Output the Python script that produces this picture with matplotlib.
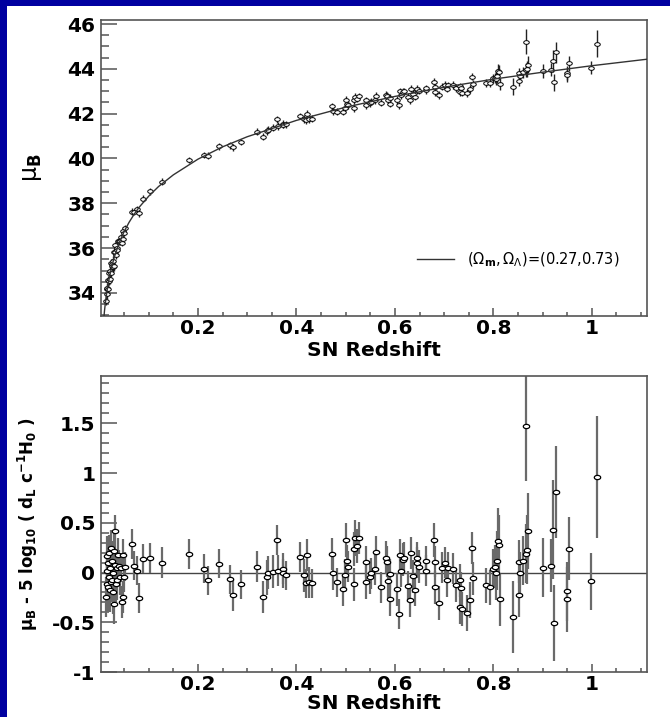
import numpy as np
import matplotlib
matplotlib.use('Agg')
import matplotlib.pyplot as plt
from matplotlib.path import Path
from matplotlib.patches import Rectangle
from matplotlib.ticker import MultipleLocator, FixedLocator, FixedFormatter

plt.rcParams['font.family'] = ['DejaVu Sans']
plt.rcParams['mathtext.fontset'] = 'dejavusans'

# redshift, distance modulus, residual, error
z = [0.0140, 0.0145, 0.0150, 0.0160, 0.0170, 0.0180, 0.0190, 0.0200, 0.0210, 0.0220,
     0.0230, 0.0240, 0.0250, 0.0260, 0.0270, 0.0280, 0.0290, 0.0300, 0.0315, 0.0320,
     0.0330, 0.0350, 0.0360, 0.0380, 0.0400, 0.0420, 0.0440, 0.0460, 0.0470, 0.0480,
     0.0500, 0.0520, 0.065, 0.071, 0.077, 0.080, 0.089, 0.1025, 0.126, 0.182,
     0.212, 0.221, 0.243, 0.265, 0.272, 0.287, 0.320, 0.333, 0.341, 0.343,
     0.353, 0.361, 0.363, 0.372, 0.373, 0.379, 0.407, 0.416, 0.420, 0.421,
     0.426, 0.432, 0.472, 0.475, 0.483, 0.495, 0.499, 0.500, 0.503, 0.505,
     0.517, 0.517, 0.519, 0.522, 0.527, 0.541, 0.542, 0.550, 0.552, 0.559,
     0.561, 0.571, 0.582, 0.583, 0.586, 0.589, 0.591, 0.605, 0.608, 0.610,
     0.612, 0.616, 0.618, 0.627, 0.631, 0.633, 0.636, 0.640, 0.644, 0.645,
     0.649, 0.664, 0.664, 0.680, 0.681, 0.681, 0.690, 0.696, 0.701, 0.705,
     0.708, 0.718, 0.725, 0.732, 0.733, 0.735, 0.737, 0.746, 0.752, 0.757,
     0.759, 0.785, 0.793, 0.800, 0.803, 0.805, 0.808, 0.810, 0.812, 0.813,
     0.840, 0.851, 0.851, 0.854, 0.861, 0.866, 0.867, 0.869, 0.871, 0.900,
     0.916, 0.922, 0.923, 0.928, 0.950, 0.950, 0.953, 0.999, 1.011]

mu_b = [33.66, 34.16, 33.95, 34.23, 34.19, 34.57, 34.54, 34.90, 34.63, 34.96,
        34.91, 35.35, 35.31, 35.20, 35.16, 35.44, 35.20, 35.82, 36.13, 35.82,
        35.69, 35.99, 35.92, 36.30, 36.31, 36.30, 36.50, 36.25, 36.78, 36.40,
        36.69, 36.89, 37.63, 37.61, 37.75, 37.55, 38.20, 38.53, 38.96, 39.93,
        40.15, 40.13, 40.54, 40.59, 40.49, 40.74, 41.19, 40.97, 41.23, 41.29,
        41.38, 41.75, 41.45, 41.54, 41.49, 41.52, 41.90, 41.76, 41.71, 42.00,
        41.75, 41.78, 42.32, 42.14, 42.09, 42.09, 42.25, 42.62, 42.42, 42.37,
        42.25, 42.61, 42.73, 42.67, 42.77, 42.39, 42.60, 42.48, 42.53, 42.61,
        42.79, 42.48, 42.83, 42.80, 42.61, 42.45, 42.71, 42.62, 42.38, 42.99,
        42.84, 42.97, 42.99, 42.74, 42.62, 43.11, 42.88, 42.75, 43.05, 43.10,
        43.03, 43.05, 43.15, 43.43, 42.95, 43.21, 42.83, 43.21, 43.28, 43.12,
        43.26, 43.28, 43.14, 42.95, 43.22, 43.15, 42.94, 42.94, 43.09, 43.64,
        43.33, 43.36, 43.36, 43.58, 43.61, 43.56, 43.68, 43.89, 43.86, 43.31,
        43.21, 43.47, 43.81, 43.70, 43.85, 45.21, 43.94, 43.98, 44.18, 43.90,
        43.97, 44.34, 43.41, 44.74, 43.81, 43.73, 44.24, 44.05, 45.13]

resid = [-0.25, 0.17, -0.12, 0.02, -0.15, 0.10, -0.05, 0.20, -0.18, 0.05,
         -0.10, 0.25, 0.12, -0.08, -0.20, 0.00, -0.32, 0.22, 0.42, 0.08,
         -0.12, 0.05, -0.08, 0.18, 0.07, -0.05, 0.05, -0.30, 0.18, -0.25,
         -0.05, 0.06, 0.29, 0.07, 0.02, -0.26, 0.14, 0.15, 0.10, 0.19,
         0.04, -0.08, 0.09, -0.07, -0.23, -0.12, 0.06, -0.25, -0.05, 0.00,
         0.01, 0.33, 0.02, 0.04, -0.01, -0.03, 0.16, -0.03, -0.11, 0.18,
         -0.10, -0.11, 0.19, 0.00, -0.10, -0.17, -0.03, 0.33, 0.12, 0.06,
         -0.12, 0.24, 0.35, 0.27, 0.35, -0.10, 0.11, -0.05, -0.01, 0.04,
         0.21, -0.15, 0.15, 0.11, -0.09, -0.27, -0.02, -0.17, -0.42, 0.18,
         0.02, 0.13, 0.15, -0.14, -0.28, 0.20, -0.04, -0.18, 0.10, 0.15,
         0.06, 0.02, 0.12, 0.33, -0.15, 0.11, -0.31, 0.05, 0.10, -0.08,
         0.05, 0.04, -0.13, -0.35, -0.08, -0.16, -0.37, -0.41, -0.28, 0.25,
         -0.06, -0.13, -0.15, 0.04, 0.06, 0.00, 0.12, 0.32, 0.28, -0.27,
         -0.45, -0.23, 0.11, -0.01, 0.12, 1.47, 0.19, 0.23, 0.42, 0.05,
         0.07, 0.43, -0.51, 0.81, -0.19, -0.27, 0.24, -0.09, 0.96]

err = [0.20, 0.20, 0.22, 0.20, 0.25, 0.20, 0.20, 0.18, 0.22, 0.20,
       0.20, 0.18, 0.20, 0.20, 0.22, 0.20, 0.20, 0.20, 0.16, 0.18,
       0.18, 0.17, 0.20, 0.17, 0.16, 0.18, 0.15, 0.16, 0.16, 0.16,
       0.15, 0.15, 0.15, 0.15, 0.15, 0.15, 0.15, 0.15, 0.16, 0.15,
       0.15, 0.15, 0.15, 0.15, 0.16, 0.15, 0.16, 0.16, 0.18, 0.17,
       0.17, 0.15, 0.16, 0.16, 0.15, 0.15, 0.15, 0.17, 0.15, 0.16,
       0.16, 0.15, 0.16, 0.18, 0.15, 0.17, 0.17, 0.17, 0.16, 0.16,
       0.17, 0.17, 0.18, 0.17, 0.16, 0.17, 0.16, 0.17, 0.16, 0.17,
       0.16, 0.16, 0.17, 0.16, 0.17, 0.17, 0.16, 0.17, 0.15, 0.16,
       0.17, 0.17, 0.16, 0.16, 0.17, 0.16, 0.17, 0.16, 0.16, 0.16,
       0.17, 0.16, 0.15, 0.17, 0.17, 0.16, 0.17, 0.16, 0.16, 0.17,
       0.16, 0.16, 0.17, 0.17, 0.17, 0.17, 0.17, 0.18, 0.18, 0.16,
       0.17, 0.18, 0.18, 0.20, 0.22, 0.28, 0.30, 0.33, 0.30, 0.27,
       0.36, 0.22, 0.22, 0.22, 0.25, 0.55, 0.30, 0.35, 0.38, 0.30,
       0.27, 0.50, 0.38, 0.46, 0.30, 0.33, 0.32, 0.29, 0.61]

# (Omega_m, Omega_L) = (0.27, 0.73) curve
curve_z = [0.003, 0.005, 0.0075, 0.01, 0.012, 0.015, 0.02, 0.025, 0.03, 0.04,
           0.05, 0.06, 0.07, 0.08, 0.1, 0.12, 0.15, 0.2, 0.25, 0.3,
           0.4, 0.5, 0.6, 0.7, 0.8, 0.9, 1.0, 1.112]
curve_mu = [30.55, 31.66, 32.55, 33.18, 33.58, 34.07, 34.70, 35.19, 35.60, 36.24,
            36.74, 37.15, 37.50, 37.81, 38.32, 38.75, 39.27, 39.97, 40.52, 40.97,
            41.70, 42.29, 42.77, 43.18, 43.54, 43.85, 44.14, 44.43]

# squashed open circle like in the original
t = np.linspace(0, 2 * np.pi, 40)
oval = Path(np.column_stack([1.5 * np.cos(t), np.sin(t)]))

W, H = 670, 717
fig = plt.figure(figsize=(W / 100, H / 100), dpi=100, facecolor='#0000a0')
fig.patches.append(Rectangle((7 / W, 0), 1, 1 - 6 / H, transform=fig.transFigure,
                             facecolor='white', edgecolor='none', zorder=-10))

frame = '#555555'
tick_font = dict(family='DejaVu Sans', weight='bold', size=14.5)


def style(ax, pad):
    for s in ax.spines.values():
        s.set_color(frame)
        s.set_linewidth(1.2)
    ax.set_facecolor('white')
    ax.set_xlim(0.003, 1.112)
    ax.xaxis.set_major_locator(FixedLocator([0.2, 0.4, 0.6, 0.8, 1.0]))
    ax.xaxis.set_major_formatter(FixedFormatter(['0.2', '0.4', '0.6', '0.8', '1']))
    ax.xaxis.set_minor_locator(MultipleLocator(0.05))
    ax.tick_params(axis='x', which='major', direction='in', length=6, width=1.1,
                   color=frame, pad=2)
    ax.tick_params(axis='x', which='minor', direction='in', length=3, width=1.1,
                   color=frame)
    ax.tick_params(axis='y', which='major', direction='in', length=11.5, width=1.1,
                   color=frame, pad=4)
    ax.tick_params(axis='y', which='minor', direction='in', length=5.8, width=1.1,
                   color=frame)
    ax.tick_params(top=False, right=False, which='both')
    for lab in ax.get_xticklabels() + ax.get_yticklabels():
        lab.set_fontproperties(tick_font)
    ax.set_xlabel('SN Redshift', fontsize=14.5, fontweight='bold', labelpad=pad)


# top panel
ax1 = fig.add_axes([101 / W, 1 - 316 / H, 546 / W, 296 / H])
ax1.errorbar(z, mu_b, yerr=err, fmt='none', ecolor='#222222', elinewidth=1.0, zorder=2)
ax1.plot(z, mu_b, linestyle='none', marker=oval, markersize=4.0, markerfacecolor='white',
         markeredgecolor='black', markeredgewidth=0.7, zorder=3)
ax1.plot(curve_z, curve_mu, color='#333333', lw=1.0, zorder=4,
         label=r'$(\Omega_{\mathbf{m}},\Omega_{\Lambda})$=(0.27,0.73)')
ax1.set_ylim(32.97, 46.18)
ax1.yaxis.set_major_locator(MultipleLocator(2))
ax1.yaxis.set_minor_locator(MultipleLocator(0.5))
style(ax1, 2)
ax1.set_ylabel('μ$_{\\mathbf{B}}$', fontsize=17, labelpad=17)
ax1.legend(loc='center left', bbox_to_anchor=(0.555, 0.19), frameon=False,
           fontsize=10.5, handlelength=2.5, handletextpad=0.9)

# bottom panel
ax2 = fig.add_axes([101 / W, 1 - 672 / H, 546 / W, 296 / H])
ax2.axhline(0, color='#444444', lw=1.0, zorder=1)
ax2.errorbar(z, resid, yerr=err, fmt='none', ecolor='#6a6a6a', elinewidth=1.6, zorder=2)
ax2.plot(z, resid, linestyle='none', marker=oval, markersize=4.6, markerfacecolor='white',
         markeredgecolor='black', markeredgewidth=0.9, zorder=3)
ax2.set_ylim(-1.0, 1.975)
ax2.yaxis.set_major_locator(FixedLocator([-1, -0.5, 0, 0.5, 1, 1.5]))
ax2.yaxis.set_major_formatter(FixedFormatter(['-1', '-0.5', '0', '0.5', '1', '1.5']))
ax2.yaxis.set_minor_locator(MultipleLocator(0.1))
style(ax2, 0)
ax2.set_ylabel('μ$_{\\mathbf{B}}$ - 5 log$_{\\mathbf{10}}$ ( d$_{\\mathbf{L}}$ c$^{\\mathbf{-1}}$H$_{\\mathbf{0}}$ )',
               fontsize=12, fontweight='bold', labelpad=8)

fig.savefig('out.png', dpi=100, facecolor=fig.get_facecolor())
